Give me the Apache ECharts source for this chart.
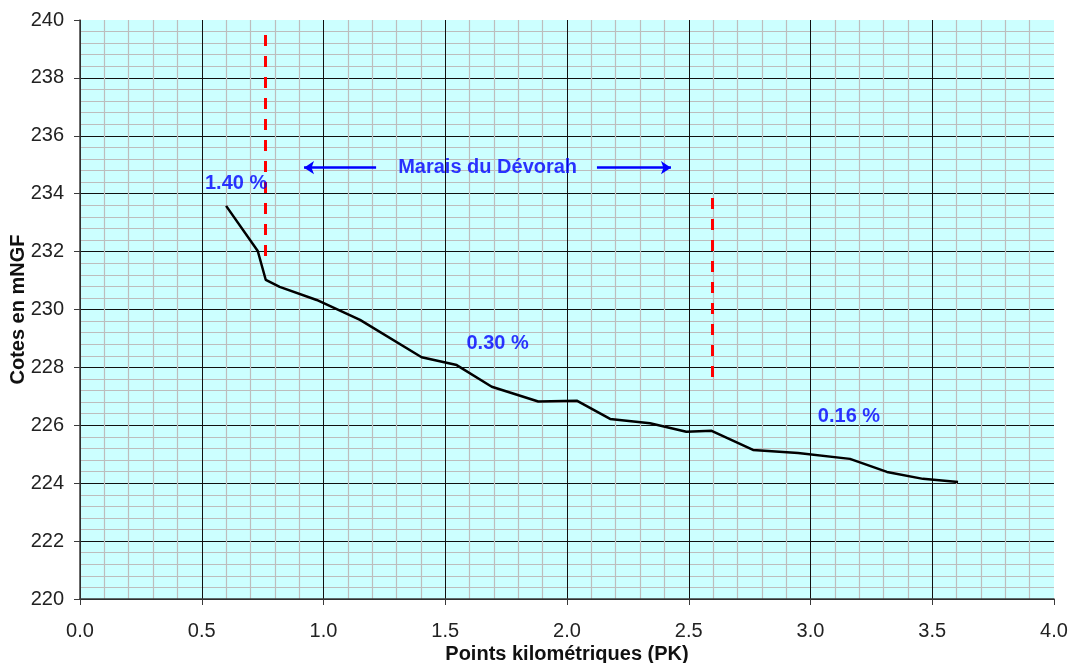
<!DOCTYPE html>
<html>
<head>
<meta charset="utf-8">
<script src="https://cdn.jsdelivr.net/npm/echarts@6/dist/echarts.min.js"></script>
<style>
html,body{margin:0;padding:0;background:#fff;}
#chart{width:1073px;height:663px;}
</style>
</head>
<body>
<div id="chart"></div>
<script>
// Profile data (PK in km, elevation in mNGF)
const pk   = [0.60, 0.73, 0.763, 0.82, 0.972, 1.15, 1.403, 1.547, 1.691, 1.882, 2.04, 2.177, 2.341, 2.49, 2.594, 2.764, 2.949, 3.162, 3.314, 3.462, 3.606];
const cote = [233.58, 232.02, 231.02, 230.78, 230.33, 229.64, 228.35, 228.08, 227.33, 226.82, 226.85, 226.22, 226.07, 225.78, 225.81, 225.15, 225.04, 224.84, 224.39, 224.15, 224.04];

// Red dashed limits: [x, yTop, yBottom]
const limitX      = [0.7625, 2.598];
const limitTop    = [239.48, 233.85];
const limitBottom = [231.7, 227.56];

// Slope annotations
const slopeText = ['1.40 %', '0.30 %', '0.16 %'];
const slopeX    = [0.641, 1.715, 3.158];
const slopeY    = [234.37, 228.81, 226.32];

// Zone label and arrows
const zoneText  = 'Marais du Dévorah';
const zoneX = 1.674, zoneY = 234.89;
const arrowStartX = [1.216, 2.123];
const arrowEndX   = [0.92, 2.427];
const arrowY      = 234.9;

const xTicks = { min: 0, max: 4, interval: 0.5 };
const yTicks = { min: 220, max: 240, interval: 2 };

const chart = echarts.init(document.getElementById('chart'), null, { renderer: 'canvas' });

const font = 'Liberation Sans, Arial, sans-serif';
const blue = '#0000ff';

const option = {
  animation: false,
  backgroundColor: '#ffffff',
  grid: { left: 80, top: 20, right: 19, bottom: 64, containLabel: false, outerBoundsMode: 'none',
          show: true, backgroundColor: '#ccffff', borderWidth: 0 },
  xAxis: {
    type: 'value', min: xTicks.min, max: xTicks.max, interval: xTicks.interval,
    name: 'Points kilométriques (PK)', nameLocation: 'middle', nameGap: 45, nameMoveOverlap: false,
    nameTextStyle: { fontFamily: font, fontWeight: 'bold', fontSize: 20, color: '#111' },
    axisLine: { show: true, onZero: false, lineStyle: { color: '#3a3a3a', width: 1.5 } },
    axisTick: { show: true, length: 6, lineStyle: { color: '#3a3a3a' } },
    minorTick: { show: false, splitNumber: 5 },
    axisLabel: { fontFamily: font, fontSize: 20, color: '#222', margin: 22, formatter: v => v.toFixed(1) },
    splitLine: { show: true, showMaxLine: false, lineStyle: { color: '#111', width: 1 } },
    minorSplitLine: { show: true, lineStyle: { color: '#bdbdbd', width: 1.2 } }
  },
  yAxis: {
    type: 'value', min: yTicks.min, max: yTicks.max, interval: yTicks.interval,
    name: 'Cotes en mNGF', nameLocation: 'middle', nameGap: 52, nameMoveOverlap: false,
    nameTextStyle: { fontFamily: font, fontWeight: 'bold', fontSize: 20, color: '#111' },
    axisLine: { show: true, lineStyle: { color: '#3a3a3a', width: 1.5 } },
    axisTick: { show: true, length: 6, lineStyle: { color: '#3a3a3a' } },
    minorTick: { show: false, splitNumber: 5 },
    axisLabel: { fontFamily: font, fontSize: 20, color: '#222', margin: 16 },
    splitLine: { show: true, showMaxLine: false, lineStyle: { color: '#111', width: 1 } },
    minorSplitLine: { show: true, lineStyle: { color: '#bdbdbd', width: 1.2 } }
  },
  series: [
    {
      name: 'profil', type: 'line', z: 5,
      data: pk.map((x, i) => [x, cote[i]]),
      showSymbol: false, symbol: 'none',
      lineStyle: { color: '#000', width: 2.5 }
    },
    {
      name: 'limites', type: 'line', data: [], z: 4,
      markLine: {
        silent: true, symbol: ['none', 'none'], label: { show: false },
        emphasis: { disabled: true },
        lineStyle: { color: '#ff0000', width: 3, type: [11, 10], opacity: 1 },
        data: limitX.map((x, i) => [{ coord: [x, limitTop[i]] }, { coord: [x, limitBottom[i]] }])
      }
    },
    {
      name: 'fleches', type: 'line', data: [], z: 4,
      markLine: {
        silent: true, symbol: ['none', 'arrow'], symbolSize: 10, label: { show: false },
        emphasis: { disabled: true },
        itemStyle: { color: '#0000ff' },
        lineStyle: { color: '#0000ff', width: 2.5, type: 'solid', opacity: 1 },
        data: arrowStartX.map((x, i) => [{ coord: [x, arrowY] }, { coord: [arrowEndX[i], arrowY] }])
      }
    },
    {
      name: 'annotations', type: 'scatter', z: 6, symbolSize: 0, silent: true,
      data: slopeText.map((t, i) => ({ value: [slopeX[i], slopeY[i]], name: t }))
        .concat([{ value: [zoneX, zoneY], name: zoneText }]),
      label: {
        show: true, position: 'inside', formatter: p => p.name,
        fontFamily: font, fontWeight: 'bold', fontSize: 20, color: blue,
        textBorderWidth: 0, textBorderColor: 'transparent'
      }
    }
  ]
};
chart.setOption(option);
</script>
</body>
</html>
